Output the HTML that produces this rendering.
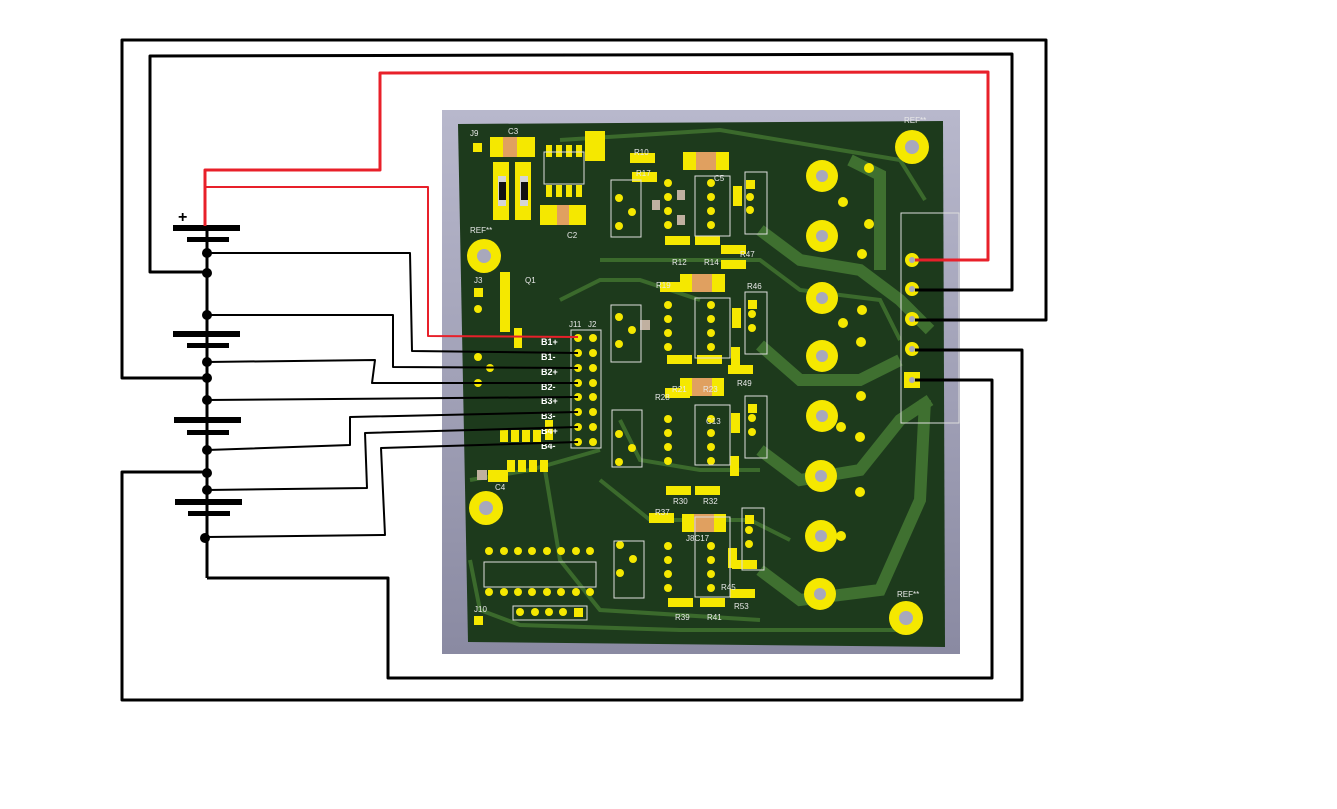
<!DOCTYPE html>
<html><head><meta charset="utf-8"><style>
html,body{margin:0;padding:0;background:#fff;}
svg{display:block}
text{font-family:"Liberation Sans",sans-serif;}
</style></head><body>
<svg width="1337" height="809" viewBox="0 0 1337 809" xmlns="http://www.w3.org/2000/svg">
<rect width="1337" height="809" fill="#fff"/>
<!-- PCB frame -->
<defs><linearGradient id="fr" x1="0" x2="0" y1="0" y2="1"><stop offset="0" stop-color="#b8b8cc"/><stop offset="1" stop-color="#8a8aa2"/></linearGradient></defs>
<rect x="442" y="110" width="518" height="544" fill="url(#fr)"/>
<polygon points="458,124 943,121 945,647 468,642" fill="#1d3a1c"/>
<!-- traces -->
<g fill="none" stroke="#3b6a2c" stroke-width="4">
<path d="M560,140 L720,130 L900,160 L925,200"/>
<path d="M600,260 L760,260 L800,290 L880,300 L900,340"/>
<path d="M470,560 L480,610 L520,625 L680,630 L900,630"/>
<path d="M545,470 L560,560 L600,610 L760,620"/>
<path d="M600,480 L650,520 L750,520 L790,540"/>
<path d="M560,300 L600,280 L640,280 L700,300"/>
<path d="M620,420 L640,460 L700,470 L760,470"/>
<path d="M470,480 L530,470 L600,450"/>
</g>
<g fill="none" stroke="#3f7030" stroke-width="12">
<path d="M760,230 L800,260 L860,270 L900,300 L930,330"/>
<path d="M760,345 L800,380 L860,380 L900,360"/>
<path d="M760,450 L800,480 L860,470 L900,420 L930,400"/>
<path d="M760,570 L800,600 L880,590 L920,500 L925,400"/>
<path d="M850,160 L880,175 L880,270"/>
</g>
<!-- connector outline J1 -->
<rect x="901" y="213" width="58" height="210" fill="none" stroke="#dcdcdc" stroke-width="1"/>
<!-- mounting holes -->
<g fill="#f5e800">
<circle cx="912" cy="147" r="17"/><circle cx="484" cy="256" r="17"/><circle cx="486" cy="508" r="17"/><circle cx="906" cy="618" r="17"/>
</g>
<g fill="#a8a8bc">
<circle cx="912" cy="147" r="7"/><circle cx="484" cy="256" r="7"/><circle cx="486" cy="508" r="7"/><circle cx="906" cy="618" r="7"/>
</g>
<!-- big pads column -->
<g fill="#f5e800">
<circle cx="822" cy="176" r="16"/><circle cx="822" cy="236" r="16"/><circle cx="822" cy="298" r="16"/><circle cx="822" cy="356" r="16"/><circle cx="822" cy="416" r="16"/><circle cx="821" cy="476" r="16"/><circle cx="821" cy="536" r="16"/><circle cx="820" cy="594" r="16"/>
</g>
<g fill="#a8a8bc">
<circle cx="822" cy="176" r="6"/><circle cx="822" cy="236" r="6"/><circle cx="822" cy="298" r="6"/><circle cx="822" cy="356" r="6"/><circle cx="822" cy="416" r="6"/><circle cx="821" cy="476" r="6"/><circle cx="821" cy="536" r="6"/><circle cx="820" cy="594" r="6"/>
</g>
<!-- J1 pads -->
<g fill="#f5e800">
<circle cx="912" cy="260" r="7"/><circle cx="912" cy="289" r="7"/><circle cx="912" cy="319" r="7"/><circle cx="912" cy="349" r="7"/><rect x="904" y="372" width="16" height="16"/>
<circle cx="869" cy="168" r="5"/><circle cx="869" cy="224" r="5"/><circle cx="862" cy="254" r="5"/><circle cx="862" cy="310" r="5"/><circle cx="861" cy="342" r="5"/><circle cx="861" cy="396" r="5"/><circle cx="860" cy="437" r="5"/><circle cx="860" cy="492" r="5"/>
<circle cx="843" cy="202" r="5"/><circle cx="843" cy="323" r="5"/><circle cx="841" cy="427" r="5"/><circle cx="841" cy="536" r="5"/>
</g>
<g fill="#a8a8bc"><circle cx="912" cy="260" r="3"/><circle cx="912" cy="289" r="3"/><circle cx="912" cy="319" r="3"/><circle cx="912" cy="349" r="3"/><circle cx="912" cy="380" r="3"/></g>
<!-- SMD parts -->
<g fill="#f5e800">
<rect x="490" y="137" width="45" height="20"/><rect x="585" y="131" width="20" height="30"/>
<rect x="493" y="162" width="16" height="58"/><rect x="515" y="162" width="16" height="58"/>
<rect x="540" y="205" width="46" height="20"/><rect x="683" y="152" width="46" height="18"/>
<rect x="680" y="274" width="45" height="18"/><rect x="680" y="378" width="44" height="18"/><rect x="682" y="514" width="44" height="18"/>
<rect x="500" y="272" width="10" height="60"/>
<rect x="658" y="174" width="60" height="70" fill-opacity="0"/>
</g>
<g fill="#d5d5d5"><rect x="498" y="176" width="8" height="30"/><rect x="520" y="176" width="8" height="30"/></g>
<g fill="#111"><rect x="499" y="182" width="7" height="18"/><rect x="521" y="182" width="7" height="18"/></g>
<g fill="#e0a060"><rect x="503" y="137" width="14" height="20"/><rect x="557" y="205" width="12" height="20"/><rect x="696" y="152" width="20" height="18"/><rect x="692" y="274" width="20" height="18"/><rect x="692" y="378" width="20" height="18"/><rect x="694" y="514" width="20" height="18"/></g>
<!-- IC pins clusters -->
<g fill="#f5e800">
<g id="ic"><circle cx="668" cy="183" r="4"/><circle cx="668" cy="197" r="4"/><circle cx="668" cy="211" r="4"/><circle cx="668" cy="225" r="4"/><circle cx="711" cy="183" r="4"/><circle cx="711" cy="197" r="4"/><circle cx="711" cy="211" r="4"/><circle cx="711" cy="225" r="4"/></g>
<use href="#ic" y="122"/><use href="#ic" y="236"/><use href="#ic" y="363"/>
<circle cx="578" cy="338" r="4"/><circle cx="578" cy="353" r="4"/><circle cx="578" cy="368" r="4"/><circle cx="578" cy="383" r="4"/><circle cx="578" cy="397" r="4"/><circle cx="578" cy="412" r="4"/><circle cx="578" cy="427" r="4"/><circle cx="578" cy="442" r="4"/>
<circle cx="593" cy="338" r="4"/><circle cx="593" cy="353" r="4"/><circle cx="593" cy="368" r="4"/><circle cx="593" cy="383" r="4"/><circle cx="593" cy="397" r="4"/><circle cx="593" cy="412" r="4"/><circle cx="593" cy="427" r="4"/><circle cx="593" cy="442" r="4"/>
<g id="dip"><circle cx="489" cy="551" r="4"/><circle cx="504" cy="551" r="4"/><circle cx="518" cy="551" r="4"/><circle cx="532" cy="551" r="4"/><circle cx="547" cy="551" r="4"/><circle cx="561" cy="551" r="4"/><circle cx="576" cy="551" r="4"/><circle cx="590" cy="551" r="4"/></g>
<use href="#dip" y="41"/>
<circle cx="520" cy="612" r="4"/><circle cx="535" cy="612" r="4"/><circle cx="549" cy="612" r="4"/><circle cx="563" cy="612" r="4"/><rect x="574" y="608" width="9" height="9"/>
<rect x="473" y="143" width="9" height="9"/><rect x="474" y="288" width="9" height="9"/><circle cx="478" cy="309" r="4"/><rect x="474" y="616" width="9" height="9"/>
<circle cx="478" cy="357" r="4"/><circle cx="490" cy="368" r="4"/><circle cx="478" cy="383" r="4"/>
<rect x="630" y="153" width="25" height="10"/><rect x="632" y="172" width="25" height="10"/><rect x="660" y="282" width="25" height="10"/><rect x="665" y="388" width="25" height="10"/><rect x="649" y="513" width="25" height="10"/>
<rect x="665" y="236" width="25" height="9"/><rect x="695" y="236" width="25" height="9"/><rect x="667" y="355" width="25" height="9"/><rect x="697" y="355" width="25" height="9"/><rect x="666" y="486" width="25" height="9"/><rect x="695" y="486" width="25" height="9"/><rect x="668" y="598" width="25" height="9"/><rect x="700" y="598" width="25" height="9"/>
<rect x="721" y="245" width="25" height="9"/><rect x="721" y="260" width="25" height="9"/><rect x="728" y="365" width="25" height="9"/><rect x="732" y="560" width="25" height="9"/><rect x="730" y="589" width="25" height="9"/>
<rect x="733" y="186" width="9" height="20"/><rect x="732" y="308" width="9" height="20"/><rect x="731" y="347" width="9" height="20"/><rect x="731" y="413" width="9" height="20"/><rect x="730" y="456" width="9" height="20"/><rect x="728" y="548" width="9" height="20"/>
<rect x="746" y="180" width="9" height="9"/><circle cx="750" cy="197" r="4"/><circle cx="750" cy="210" r="4"/><rect x="748" y="300" width="9" height="9"/><circle cx="752" cy="314" r="4"/><circle cx="752" cy="328" r="4"/><rect x="748" y="404" width="9" height="9"/><circle cx="752" cy="418" r="4"/><circle cx="752" cy="432" r="4"/><rect x="745" y="515" width="9" height="9"/><circle cx="749" cy="530" r="4"/><circle cx="749" cy="544" r="4"/>
<circle cx="619" cy="198" r="4"/><circle cx="632" cy="212" r="4"/><circle cx="619" cy="226" r="4"/><circle cx="619" cy="317" r="4"/><circle cx="632" cy="330" r="4"/><circle cx="619" cy="344" r="4"/><circle cx="619" cy="434" r="4"/><circle cx="632" cy="448" r="4"/><circle cx="619" cy="462" r="4"/><circle cx="620" cy="545" r="4"/><circle cx="633" cy="559" r="4"/><circle cx="620" cy="573" r="4"/>
<rect x="500" y="430" width="8" height="12"/><rect x="511" y="430" width="8" height="12"/><rect x="522" y="430" width="8" height="12"/><rect x="533" y="430" width="8" height="12"/><rect x="507" y="460" width="8" height="12"/><rect x="518" y="460" width="8" height="12"/><rect x="529" y="460" width="8" height="12"/><rect x="540" y="460" width="8" height="12"/>
<rect x="546" y="145" width="6" height="12"/><rect x="556" y="145" width="6" height="12"/><rect x="566" y="145" width="6" height="12"/><rect x="576" y="145" width="6" height="12"/><rect x="546" y="185" width="6" height="12"/><rect x="556" y="185" width="6" height="12"/><rect x="566" y="185" width="6" height="12"/><rect x="576" y="185" width="6" height="12"/>
<rect x="488" y="470" width="20" height="12"/><rect x="545" y="420" width="8" height="20"/><rect x="514" y="328" width="8" height="20"/>
</g>
<g fill="#c0b0a0"><rect x="677" y="190" width="8" height="10"/><rect x="677" y="215" width="8" height="10"/><rect x="652" y="200" width="8" height="10"/><rect x="640" y="320" width="10" height="10"/><rect x="477" y="470" width="10" height="10"/></g>
<!-- outlines -->
<g fill="none" stroke="#ddd" stroke-width="1">
<rect x="611" y="180" width="30" height="57"/><rect x="611" y="305" width="30" height="57"/><rect x="612" y="410" width="30" height="57"/><rect x="614" y="541" width="30" height="57"/>
<rect x="571" y="330" width="30" height="118"/><rect x="484" y="562" width="112" height="25"/><rect x="513" y="606" width="74" height="14"/>
<rect x="745" y="172" width="22" height="62"/><rect x="745" y="292" width="22" height="62"/><rect x="745" y="396" width="22" height="62"/><rect x="742" y="508" width="22" height="62"/>
<rect x="695" y="176" width="35" height="60"/><rect x="695" y="298" width="35" height="60"/><rect x="695" y="405" width="35" height="60"/><rect x="695" y="517" width="35" height="80"/>
<rect x="544" y="152" width="40" height="32"/>
</g>
<!-- labels -->
<g fill="#e8e8e8" font-size="8">
<text x="470" y="136">J9</text><text x="508" y="134">C3</text><text x="634" y="155">R10</text><text x="636" y="176">R17</text><text x="714" y="181">C5</text><text x="567" y="238">C2</text>
<text x="470" y="233">REF**</text><text x="904" y="123">REF**</text><text x="897" y="597">REF**</text>
<text x="474" y="283">J3</text><text x="525" y="283">Q1</text><text x="569" y="327">J11</text><text x="588" y="327">J2</text>
<text x="656" y="288">R19</text><text x="655" y="400">R28</text><text x="655" y="515">R37</text>
<text x="672" y="265">R12</text><text x="704" y="265">R14</text><text x="740" y="257">R47</text><text x="747" y="289">R46</text>
<text x="672" y="392">R21</text><text x="703" y="392">R23</text><text x="737" y="386">R49</text><text x="673" y="504">R30</text><text x="703" y="504">R32</text>
<text x="675" y="620">R39</text><text x="707" y="620">R41</text><text x="734" y="609">R53</text><text x="721" y="590">R45</text><text x="495" y="490">C4</text><text x="706" y="424">C13</text><text x="686" y="541">J8C17</text><text x="474" y="612">J10</text>
</g>
<g fill="#fff" font-size="9" font-weight="bold">
<text x="541" y="345">B1+</text><text x="541" y="360">B1-</text><text x="541" y="375">B2+</text><text x="541" y="390">B2-</text><text x="541" y="404">B3+</text><text x="541" y="419">B3-</text><text x="541" y="434">B4+</text><text x="541" y="449">B4-</text>
</g>
<!-- wires -->
<g fill="none" stroke="#000" stroke-width="3" stroke-linejoin="round">
<path d="M208,378 L122,378 L122,40 L1046,40 L1046,320 L915,320"/>
<path d="M208,272 L150,272 L150,56 L1012,54 L1012,290 L915,290"/>
<path d="M207,578 L388,578 L388,678 L992,678 L992,380 L915,380"/>
<path d="M208,472 L122,472 L122,700 L1022,700 L1022,350 L915,350"/>
<path d="M207,228 L207,578"/>
</g>
<g fill="none" stroke="#000" stroke-width="2" stroke-linejoin="round">
<path d="M207,253 L410,253 L412,351 L578,353"/>
<path d="M207,315 L393,315 L393,367 L578,368"/>
<path d="M207,362 L375,360 L372,383 L578,383"/>
<path d="M207,400 L578,397"/>
<path d="M207,450 L350,445 L350,417 L578,412"/>
<path d="M207,490 L367,488 L365,433 L578,427"/>
<path d="M207,537 L385,535 L381,448 L578,442"/>
</g>
<g fill="#000">
<rect x="173" y="225" width="67" height="6"/><rect x="187" y="237" width="42" height="5"/>
<rect x="173" y="331" width="67" height="6"/><rect x="187" y="343" width="42" height="5"/>
<rect x="174" y="417" width="67" height="6"/><rect x="187" y="430" width="42" height="5"/>
<rect x="175" y="499" width="67" height="6"/><rect x="188" y="511" width="42" height="5"/>
<circle cx="207" cy="253" r="5"/><circle cx="207" cy="273" r="5"/><circle cx="207" cy="315" r="5"/><circle cx="207" cy="362" r="5"/><circle cx="207" cy="378" r="5"/><circle cx="207" cy="400" r="5"/><circle cx="207" cy="450" r="5"/><circle cx="207" cy="473" r="5"/><circle cx="207" cy="490" r="5"/><circle cx="205" cy="538" r="5"/>
</g>
<text x="178" y="222" font-size="16" font-weight="bold" fill="#000">+</text>
<g fill="none" stroke="#e8202a" stroke-width="3" stroke-linejoin="round">
<path d="M205,226 L205,170 L380,170 L380,73 L988,72 L988,260 L915,260"/>
</g>
<g fill="none" stroke="#e8202a" stroke-width="2" stroke-linejoin="round">
<path d="M206,187 L428,187 L428,336 L578,337"/>
</g>
</svg>
</body></html>
